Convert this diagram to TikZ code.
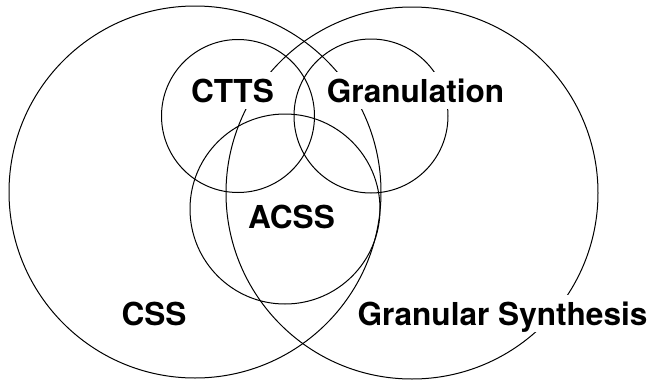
\documentclass[tikz,border=0pt]{standalone}
\usepackage{fontspec}
\setmainfont{TeX Gyre Heros}
\begin{document}
\begin{tikzpicture}[x=1pt,y=-1pt,
  ring/.style={draw=black,line width=1pt},
  lbl/.style={anchor=base,fill=white,inner xsep=2pt,inner ysep=4pt,
    text height=26pt,text depth=3pt,
    font=\fontsize{31.6}{32}\selectfont\bfseries}]
\useasboundingbox (0,0) rectangle (649,381);
% circles
\draw[ring] (195,192) circle[radius=186pt];
\draw[ring] (412,193) circle[radius=186pt];
\draw[ring] (238,116) circle[radius=76.5pt];
\draw[ring] (371,116) circle[radius=77pt];
\draw[ring] (285,209) circle[radius=95pt];
% labels
\node[lbl] (ctts) at (232.5,102) {CTTS};
\node[lbl] (gran) at (415.5,102) {Granulation};
\node[lbl] (acss) at (291.5,228) {ACSS};
\node[lbl] (css) at (154,325) {CSS};
\node[lbl] (gs) at (502.5,325) {Granular Synthesis};
\end{tikzpicture}
\end{document}
